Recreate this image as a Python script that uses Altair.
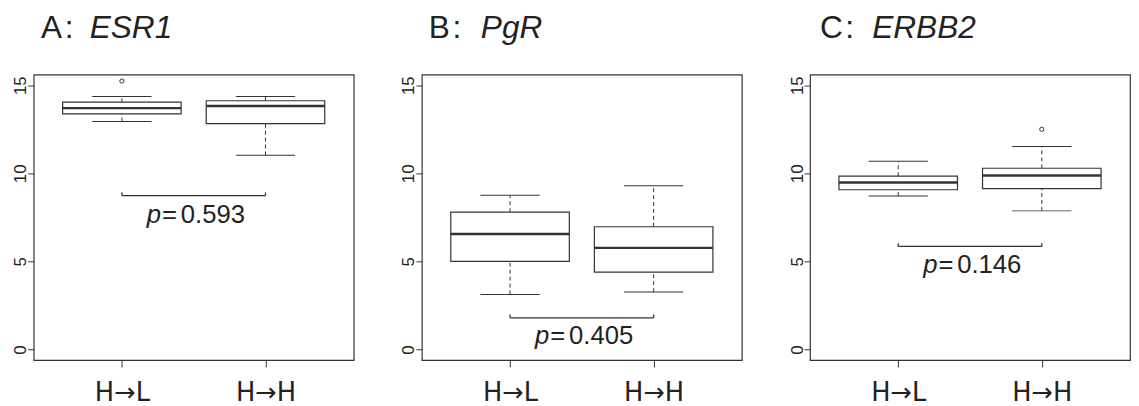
import altair as alt
import pandas as pd

# ---------------- data ----------------
groups = ["H→L", "H→H"]
group_pos = [1, 2]

letters = ["A", "B", "C"]
genes = ["ESR1", "PgR", "ERBB2"]

# one inner list per gene, values for [H→L, H→H]
lower_whisker = [[12.94, 11.02], [3.13, 3.26], [8.72, 7.87]]
q1 = [[13.38, 12.82], [5.00, 4.39], [9.07, 9.13]]
median = [[13.70, 13.82], [6.56, 5.77], [9.48, 9.88]]
q3 = [[14.04, 14.12], [7.80, 6.97], [9.84, 10.29]]
upper_whisker = [[14.36, 14.36], [8.76, 9.30], [10.69, 11.53]]

outlier_gene = [0, 2]
outlier_pos = [1, 2]
outlier_value = [15.24, 12.50]

p_values = ["0.593", "0.405", "0.146"]
bracket_y = [8.74, 1.80, 5.85]
bracket_tip = [8.92, 1.99, 6.03]
p_label_y = [7.16, 0.30, 4.33]

y_ticks = [0, 5, 10, 15]

# ---------------- styling ----------------
LINE = "#333333"
TEXT = "#222222"
FONT = "Liberation Sans"
PANEL_W, PANEL_H = 324, 289
# title placement (pixels relative to each panel's plot area)
title_letter_x = [7.5, 7, 10]
title_gene_x = [56.7, 59.7, 63]
TITLE_Y = -37

label_expr = "[" + ", ".join(["''"] + [f"'{g}'" for g in groups]) + "][datum.value]"

xscale = alt.Scale(domain=[0.42, 2.58], nice=False, zero=False)
yscale = alt.Scale(domain=[-0.6, 15.6], nice=False, zero=False)
xaxis = alt.Axis(values=group_pos, labelExpr=label_expr, tickSize=7,
                 labelFontSize=26, labelPadding=13, grid=False, domain=False,
                 tickColor=LINE, labelColor=TEXT, labelFont="DejaVu Sans")
yaxis = alt.Axis(values=y_ticks, labelAngle=270, tickSize=6, labelFontSize=17,
                 labelPadding=-2, grid=False, domain=False,
                 tickColor=LINE, labelColor=TEXT, labelFont=FONT)


def X(field):
    return alt.X(field, type="quantitative", scale=xscale, axis=xaxis, title=None)


def Y(field):
    return alt.Y(field, type="quantitative", scale=yscale, axis=yaxis, title=None)


def panel(i):
    stats = pd.DataFrame({
        "pos": group_pos, "group": groups,
        "lo": lower_whisker[i], "q1": q1[i], "med": median[i],
        "q3": q3[i], "hi": upper_whisker[i],
    })
    whisk = pd.concat([
        pd.DataFrame({"pos": group_pos, "a": q3[i], "b": upper_whisker[i]}),
        pd.DataFrame({"pos": group_pos, "a": lower_whisker[i], "b": q1[i]}),
    ])
    staples = pd.concat([
        pd.DataFrame({"pos": group_pos, "v": upper_whisker[i]}),
        pd.DataFrame({"pos": group_pos, "v": lower_whisker[i]}),
    ])
    outl = pd.DataFrame({"g": outlier_gene, "pos": outlier_pos, "v": outlier_value})
    outl = outl[outl["g"] == i]
    br = pd.DataFrame({"x1": [group_pos[0]], "x2": [group_pos[1]],
                       "y": [bracket_y[i]], "ty": [p_label_y[i]],
                       "p": ["p"], "eq": ["="], "val": [p_values[i]]})
    br_ends = pd.DataFrame({"pos": group_pos, "y": [bracket_y[i]] * 2,
                            "tip": [bracket_tip[i]] * 2})
    ttl = pd.DataFrame({"letter": [letters[i] + "\u200a:"], "gene": [genes[i]]})

    whisk_l = alt.Chart(whisk).mark_rule(color=LINE, strokeWidth=1, strokeDash=[4, 3]).encode(
        x=X("pos"), y=Y("a"), y2="b")
    staple_l = alt.Chart(staples).mark_tick(orient="horizontal", size=60, thickness=1,
                                            color=LINE, opacity=1).encode(x=X("pos"), y=Y("v"))
    box_l = alt.Chart(stats).mark_bar(width=120, fill="white", stroke=LINE,
                                      strokeWidth=1.2).encode(x=X("pos"), y=Y("q1"), y2="q3")
    med_l = alt.Chart(stats).mark_tick(orient="horizontal", size=120, thickness=2.4,
                                       color=LINE, opacity=1).encode(x=X("pos"), y=Y("med"))
    layers = [whisk_l, staple_l, box_l, med_l]
    if len(outl):
        layers.append(alt.Chart(outl).mark_point(shape="circle", filled=False, size=18,
                                                 color=LINE, strokeWidth=1, opacity=1).encode(
            x=X("pos"), y=Y("v")))
    bracket_l = alt.Chart(br).mark_rule(color=LINE, strokeWidth=1.3).encode(
        x=X("x1"), x2="x2", y=Y("y"))
    ends_l = alt.Chart(br_ends).mark_rule(color=LINE, strokeWidth=1.3).encode(
        x=X("pos"), y=Y("y"), y2="tip")
    mid = alt.Chart(br).transform_calculate(mx="(datum.x1 + datum.x2) / 2")
    p_l = mid.mark_text(font=FONT, fontSize=26, fontStyle="italic", align="right",
                        baseline="alphabetic", dx=-33, color=TEXT).encode(
        x=X("mx:Q"), y=Y("ty"), text="p:N")
    eq_l = mid.mark_text(font=FONT, fontSize=26, align="left", baseline="alphabetic",
                         dx=-32, color=TEXT).encode(x=X("mx:Q"), y=Y("ty"), text="eq:N")
    v_l = mid.mark_text(font=FONT, fontSize=26, align="left", baseline="alphabetic",
                        dx=-13, color=TEXT).encode(x=X("mx:Q"), y=Y("ty"), text="val:N")
    t1 = alt.Chart(ttl).mark_text(font=FONT, fontSize=32, align="left", baseline="alphabetic",
                                  color=TEXT).encode(
        x=alt.value(title_letter_x[i]), y=alt.value(TITLE_Y), text="letter:N")
    t2 = alt.Chart(ttl).mark_text(font=FONT, fontSize=32, fontStyle="italic", align="left",
                                  baseline="alphabetic", color=TEXT).encode(
        x=alt.value(title_gene_x[i]), y=alt.value(TITLE_Y), text="gene:N")
    layers += [bracket_l, ends_l, p_l, eq_l, v_l, t1, t2]
    return alt.layer(*layers).properties(width=PANEL_W, height=PANEL_H)


chart = alt.hconcat(*[panel(i) for i in range(3)], spacing=69, bounds="flush").configure_view(
    stroke=LINE, strokeWidth=1.2
).properties(padding={"left": 3, "top": 1, "right": 0, "bottom": 0})

chart.save("out.html", embed_options={"renderer": "svg", "actions": False})
